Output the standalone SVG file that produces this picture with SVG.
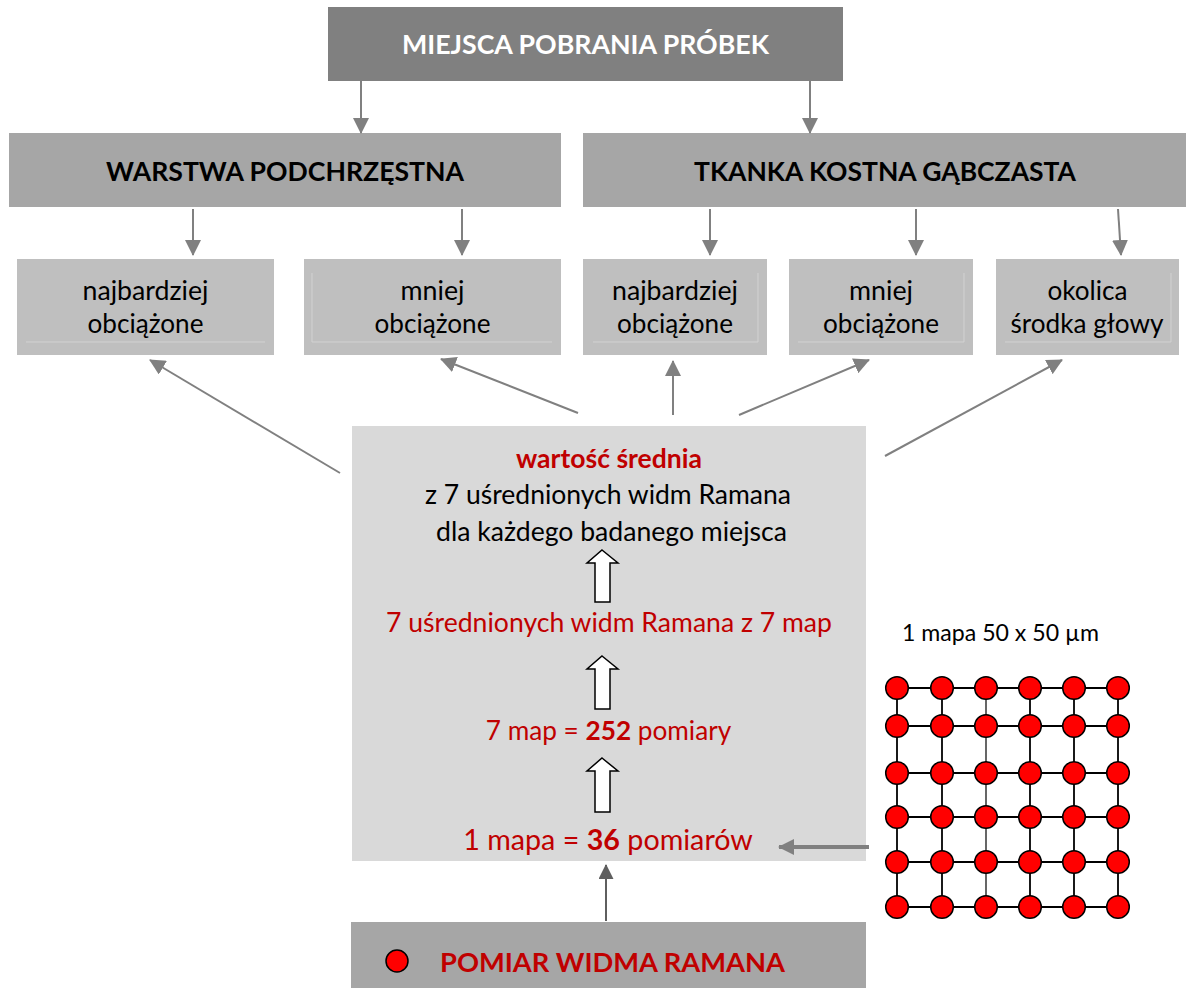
<svg xmlns="http://www.w3.org/2000/svg" width="1188" height="988" viewBox="0 0 1188 988">
<style>
text{font-family:Lato,"Liberation Sans",sans-serif;text-anchor:middle}
.hdr{font-weight:bold;font-size:27px}
.lbl{font-size:27px;fill:#000}
.red{fill:#c00000}
.b{font-weight:bold}
.conn{stroke:#808080;stroke-width:2;fill:none}
.inner{stroke:#d2d2d2;stroke-width:1;fill:none}
.hollow{fill:#fff;stroke:#000;stroke-width:1.5}
.grid line{stroke:#000;stroke-width:1.8}
.grid circle{fill:#f00;stroke:#000;stroke-width:1.5}
</style>
<defs>
<marker id="ah" viewBox="0 0 16 16" refX="15" refY="8" markerWidth="16" markerHeight="16" markerUnits="userSpaceOnUse" orient="auto">
<path d="M0,0 L16,8 L0,16 z" fill="#808080"/>
</marker>
<marker id="ahd" viewBox="0 0 16 16" refX="15" refY="8" markerWidth="15" markerHeight="15" markerUnits="userSpaceOnUse" orient="auto">
<path d="M0,0 L16,8 L0,16 z" fill="#5f5f5f"/>
</marker>
</defs>
<rect width="1188" height="988" fill="#fff"/>

<g id="top">
<rect x="328" y="7" width="515" height="74" fill="#808080"/>
<text class="hdr" x="585.5" y="54" fill="#fff" textLength="367" lengthAdjust="spacingAndGlyphs">MIEJSCA POBRANIA PRÓBEK</text>
</g>
<g id="warstwa">
<rect x="9" y="133" width="552" height="74" fill="#a6a6a6"/>
<text class="hdr" x="285" y="181" fill="#000" textLength="358" lengthAdjust="spacingAndGlyphs">WARSTWA PODCHRZĘSTNA</text>
</g>
<g id="tkanka">
<rect x="583" y="133" width="603" height="74" fill="#a6a6a6"/>
<text class="hdr" x="885" y="181" fill="#000" textLength="382" lengthAdjust="spacingAndGlyphs">TKANKA KOSTNA GĄBCZASTA</text>
</g>

<g id="w-najbardziej">
<rect x="17" y="259" width="257" height="96" fill="#bfbfbf"/>
<line class="inner" x1="26" y1="342" x2="265" y2="342"/>
<text class="lbl" x="145.5" y="300" textLength="126" lengthAdjust="spacingAndGlyphs">najbardziej</text>
<text class="lbl" x="145.5" y="333" textLength="116" lengthAdjust="spacingAndGlyphs">obciążone</text>
</g>
<g id="w-mniej">
<rect x="304" y="259" width="257" height="96" fill="#bfbfbf"/>
<path class="inner" d="M312,273 V342 H552"/>
<text class="lbl" x="432.5" y="300" textLength="64" lengthAdjust="spacingAndGlyphs">mniej</text>
<text class="lbl" x="432.5" y="333" textLength="116" lengthAdjust="spacingAndGlyphs">obciążone</text>
</g>
<g id="t-najbardziej">
<rect x="583" y="259" width="184" height="96" fill="#bfbfbf"/>
<path class="inner" d="M593,342 H758 V273"/>
<text class="lbl" x="675" y="300" textLength="126" lengthAdjust="spacingAndGlyphs">najbardziej</text>
<text class="lbl" x="675" y="333" textLength="116" lengthAdjust="spacingAndGlyphs">obciążone</text>
</g>
<g id="t-mniej">
<rect x="789" y="259" width="184" height="96" fill="#bfbfbf"/>
<path class="inner" d="M798,342 H964 V273"/>
<text class="lbl" x="881" y="300" textLength="64" lengthAdjust="spacingAndGlyphs">mniej</text>
<text class="lbl" x="881" y="333" textLength="116" lengthAdjust="spacingAndGlyphs">obciążone</text>
</g>
<g id="t-okolica">
<rect x="996" y="259" width="183" height="96" fill="#bfbfbf"/>
<path class="inner" d="M1005,342 H1171 V273"/>
<text class="lbl" x="1087.5" y="300" textLength="80" lengthAdjust="spacingAndGlyphs">okolica</text>
<text class="lbl" x="1087" y="333" textLength="153" lengthAdjust="spacingAndGlyphs">środka głowy</text>
</g>

<g id="srednia">
<rect x="352" y="426" width="514" height="435" fill="#d9d9d9"/>
<text class="lbl red b" x="609" y="468" textLength="186" lengthAdjust="spacingAndGlyphs">wartość średnia</text>
<text class="lbl" x="608" y="504" textLength="366" lengthAdjust="spacingAndGlyphs">z 7 uśrednionych widm Ramana</text>
<text class="lbl" x="611.5" y="541" textLength="351" lengthAdjust="spacingAndGlyphs">dla każdego badanego miejsca</text>
<polygon class="hollow" points="602,550 618,563 610,563 610,602 595,602 595,563 587,563"/>
<text class="lbl red" x="609" y="632" textLength="446" lengthAdjust="spacingAndGlyphs">7 uśrednionych widm Ramana z 7 map</text>
<polygon class="hollow" points="602,656 618,669 610,669 610,709 595,709 595,669 587,669"/>
<text class="lbl red" x="608.5" y="740" style="font-size:26.2px">7 map = <tspan class="b">252</tspan> pomiary</text>
<polygon class="hollow" points="602,758 618,771 610,771 610,812 595,812 595,771 587,771"/>
<text class="lbl red" x="608" y="850" style="font-size:28.7px">1 mapa = <tspan class="b">36</tspan> pomiarów</text>
</g>

<g id="mapa">
<text x="1000.5" y="641" style="font-size:23px" fill="#000" textLength="197" lengthAdjust="spacingAndGlyphs">1 mapa 50 x 50 µm</text>
<g class="grid">
<line x1="897" y1="688" x2="1118" y2="688"/>
<line x1="897" y1="726" x2="1118" y2="726"/>
<line x1="897" y1="773" x2="1118" y2="773"/>
<line x1="897" y1="817" x2="1118" y2="817"/>
<line x1="897" y1="862" x2="1118" y2="862"/>
<line x1="897" y1="907" x2="1118" y2="907"/>
<line x1="897" y1="688" x2="897" y2="907"/>
<line x1="942" y1="688" x2="942" y2="907"/>
<line x1="986" y1="688" x2="986" y2="907" style="stroke-width:1.2"/>
<line x1="1030" y1="688" x2="1030" y2="907"/>
<line x1="1074" y1="688" x2="1074" y2="907"/>
<line x1="1118" y1="688" x2="1118" y2="907"/>
<g id="dots">
<circle cx="897" cy="688" r="11.3"/><circle cx="942" cy="688" r="11.3"/><circle cx="986" cy="688" r="11.3"/><circle cx="1030" cy="688" r="11.3"/><circle cx="1074" cy="688" r="11.3"/><circle cx="1118" cy="688" r="11.3"/>
<circle cx="897" cy="726" r="11.3"/><circle cx="942" cy="726" r="11.3"/><circle cx="986" cy="726" r="11.3"/><circle cx="1030" cy="726" r="11.3"/><circle cx="1074" cy="726" r="11.3"/><circle cx="1118" cy="726" r="11.3"/>
<circle cx="897" cy="773" r="11.3"/><circle cx="942" cy="773" r="11.3"/><circle cx="986" cy="773" r="11.3"/><circle cx="1030" cy="773" r="11.3"/><circle cx="1074" cy="773" r="11.3"/><circle cx="1118" cy="773" r="11.3"/>
<circle cx="897" cy="817" r="11.3"/><circle cx="942" cy="817" r="11.3"/><circle cx="986" cy="817" r="11.3"/><circle cx="1030" cy="817" r="11.3"/><circle cx="1074" cy="817" r="11.3"/><circle cx="1118" cy="817" r="11.3"/>
<circle cx="897" cy="862" r="11.3"/><circle cx="942" cy="862" r="11.3"/><circle cx="986" cy="862" r="11.3"/><circle cx="1030" cy="862" r="11.3"/><circle cx="1074" cy="862" r="11.3"/><circle cx="1118" cy="862" r="11.3"/>
<circle cx="897" cy="907" r="11.3"/><circle cx="942" cy="907" r="11.3"/><circle cx="986" cy="907" r="11.3"/><circle cx="1030" cy="907" r="11.3"/><circle cx="1074" cy="907" r="11.3"/><circle cx="1118" cy="907" r="11.3"/>
</g>
</g>
</g>

<g id="pomiar">
<rect x="351" y="922" width="515" height="66" fill="#a6a6a6"/>
<circle cx="397" cy="961" r="11" fill="#f00" stroke="#000" stroke-width="1.5"/>
<text class="hdr red" x="612.5" y="972" style="fill:#c00000" textLength="345" lengthAdjust="spacingAndGlyphs">POMIAR WIDMA RAMANA</text>
</g>

<g id="connectors">
<line class="conn" x1="361" y1="81" x2="361" y2="133" marker-end="url(#ah)"/>
<line class="conn" x1="810" y1="81" x2="810" y2="133" marker-end="url(#ah)"/>
<line class="conn" x1="193" y1="209" x2="193" y2="255" marker-end="url(#ah)"/>
<line class="conn" x1="462" y1="209" x2="462" y2="255" marker-end="url(#ah)"/>
<line class="conn" x1="710" y1="209" x2="710" y2="255" marker-end="url(#ah)"/>
<line class="conn" x1="916" y1="209" x2="916" y2="255" marker-end="url(#ah)"/>
<line class="conn" x1="1118" y1="209" x2="1121" y2="255" marker-end="url(#ah)"/>
<line class="conn" x1="340" y1="473" x2="150" y2="360" marker-end="url(#ah)"/>
<line class="conn" x1="578" y1="413" x2="441" y2="359" marker-end="url(#ah)"/>
<line class="conn" x1="673" y1="415" x2="673" y2="361" marker-end="url(#ah)"/>
<line class="conn" x1="739" y1="415" x2="869" y2="360" marker-end="url(#ah)"/>
<line class="conn" x1="885" y1="456" x2="1062" y2="360" marker-end="url(#ah)"/>
<line x1="869" y1="847" x2="779" y2="847" stroke="#808080" stroke-width="4" marker-end="url(#ah)"/>
<line x1="606" y1="921" x2="606" y2="865" stroke="#5f5f5f" stroke-width="2" marker-end="url(#ahd)"/>
</g>
</svg>
